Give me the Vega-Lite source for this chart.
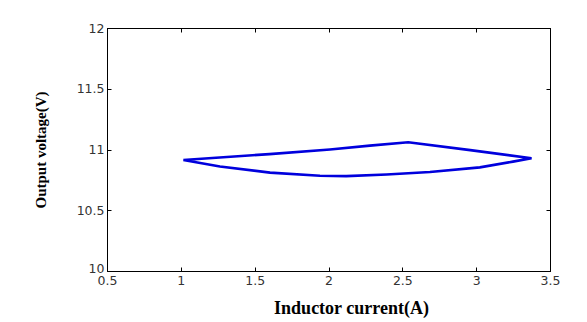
{
  "$schema": "https://vega.github.io/schema/vega-lite/v6.json",
  "width": 443,
  "height": 243,
  "autosize": {"type": "none"},
  "padding": {"left": 107, "top": 28, "right": 37, "bottom": 51},
  "background": "white",
  "config": {
    "view": {"stroke": "black", "strokeWidth": 1},
    "axis": {
      "grid": false,
      "domainColor": "black",
      "tickColor": "black",
      "labelFont": "DejaVu Sans",
      "labelFontSize": 12.5,
      "labelColor": "#333333",
      "titleFont": "Liberation Serif",
      "titleFontWeight": "bold",
      "titleColor": "black",
      "tickSize": -4
    }
  },
  "data": {
    "values": [
      {"i": 1, "current": 1.017, "voltage": 10.914},
      {"i": 2, "current": 1.6, "voltage": 10.962},
      {"i": 3, "current": 2.01, "voltage": 11.0},
      {"i": 4, "current": 2.28, "voltage": 11.032},
      {"i": 5, "current": 2.54, "voltage": 11.06},
      {"i": 6, "current": 2.96, "voltage": 10.995},
      {"i": 7, "current": 3.375, "voltage": 10.928},
      {"i": 8, "current": 3.249, "voltage": 10.9},
      {"i": 9, "current": 3.025, "voltage": 10.853},
      {"i": 10, "current": 2.687, "voltage": 10.815},
      {"i": 11, "current": 2.394, "voltage": 10.794},
      {"i": 12, "current": 2.12, "voltage": 10.781},
      {"i": 13, "current": 1.942, "voltage": 10.784},
      {"i": 14, "current": 1.604, "voltage": 10.81},
      {"i": 15, "current": 1.265, "voltage": 10.86},
      {"i": 16, "current": 1.017, "voltage": 10.914}
    ]
  },
  "layer": [
    {
      "mark": {"type": "line", "color": "#0000dd", "strokeWidth": 2.6, "clip": true, "strokeJoin": "miter"},
      "encoding": {
        "order": {"field": "i", "type": "quantitative"},
        "x": {
          "field": "current", "type": "quantitative",
          "scale": {"domain": [0.5, 3.5], "nice": false, "zero": false},
          "axis": {"title": "Inductor current(A)", "titleFontSize": 18, "titleX": 244, "values": [0.5, 1, 1.5, 2, 2.5, 3, 3.5], "format": "~g", "labelPadding": 7, "titlePadding": 13, "labelFlush": false}
        },
        "y": {
          "field": "voltage", "type": "quantitative",
          "scale": {"domain": [10, 12], "nice": false, "zero": false},
          "axis": {"title": "Output voltage(V)", "titleFontSize": 15, "values": [10, 10.5, 11, 11.5, 12], "format": "~g", "labelPadding": 7, "titlePadding": 28, "labelFlush": false,
            "labelOffset": {"condition": {"test": "datum.value == 10", "value": -3}, "value": 0}}
        }
      }
    },
    {
      "mark": {"type": "line", "opacity": 0},
      "encoding": {
        "order": {"field": "i", "type": "quantitative"},
        "x": {
          "field": "current", "type": "quantitative",
          "axis": {"orient": "top", "title": null, "labels": false, "values": [0.5, 1, 1.5, 2, 2.5, 3, 3.5]}
        },
        "y": {
          "field": "voltage", "type": "quantitative",
          "axis": {"orient": "right", "title": null, "labels": false, "values": [10, 10.5, 11, 11.5, 12]}
        }
      }
    }
  ],
  "resolve": {"axis": {"x": "independent", "y": "independent"}}
}
